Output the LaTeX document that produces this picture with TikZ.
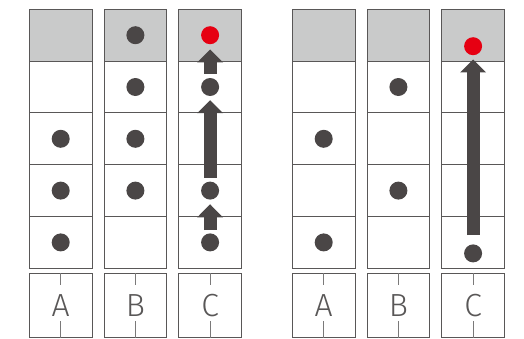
\documentclass[tikz,border=0pt]{standalone}
\usepackage{fontspec}
\newfontfamily\labelfont{Fira Sans Light}
\usetikzlibrary{positioning,arrows.meta}
\definecolor{dotgray}{HTML}{4A4646}
\definecolor{headgray}{HTML}{C9CACA}
\definecolor{linegray}{HTML}{595757}
\definecolor{dotred}{HTML}{E60012}

\begin{document}
\begin{tikzpicture}[
        x=1pt, y=-1pt,
        cell/.style={draw=linegray, line width=0.9pt, minimum width=62.7pt, minimum height=51.8pt, inner sep=0pt},
        headcell/.style={cell, fill=headgray},
        labelbox/.style={draw=linegray, line width=0.9pt, minimum width=62.7pt, minimum height=64pt, inner sep=0pt, font=\labelfont\fontsize{32}{32}\selectfont, text=linegray},
        tick/.style={draw=linegray!80, line width=0.8pt},
        dot/.style={circle, fill=dotgray, minimum size=18pt, inner sep=0pt},
        reddot/.style={dot, fill=dotred},
        blockarrow/.style={-{Triangle[length=13pt, width=25pt]}, line width=13pt, dotgray}
    ]
        \useasboundingbox (0,0) rectangle (524,338);

        % Columns: gray head cell, four white cells, label box with ticks
        \foreach \g/\gx in {L/0, R/263} {
            \foreach \c/\cx in {A/60.7, B/135.4, C/210.1} {
                \node[headcell] (\g\c1) at (\gx+\cx, 35.2) {};
                \foreach \r in {2,...,5}
                    \node[cell] (\g\c\r) at (\gx+\cx, {9.3+51.8*(\r-0.5)}) {};
                \node[labelbox] (\g\c lab) at (\gx+\cx, 305.5) {\c};
                \draw[tick] (\g\c lab.north) -- ++(0,11.5);
                \draw[tick] (\g\c lab.south) -- ++(0,-16.5);
            }
        }

        % Left group: dots
        \node[dot] (LdA3) at (LA3) {};
        \node[dot] (LdA4) at (LA4) {};
        \node[dot] (LdA5) at (LA5) {};
        \node[dot] (LdB1) at (LB1) {};
        \node[dot] (LdB2) at (LB2) {};
        \node[dot] (LdB3) at (LB3) {};
        \node[dot] (LdB4) at (LB4) {};
        \node[reddot] (LdC1) at (LC1) {};
        \node[dot] (LdC2) at (LC2) {};
        \node[dot] (LdC4) at (LC4) {};
        \node[dot] (LdC5) at (LC5) {};

        % Left group: moves in column C
        \draw[blockarrow] ([yshift=3pt]LdC5.north) -- ([yshift=-4.5pt]LdC4.south);
        \draw[blockarrow] ([yshift=3.5pt]LdC4.north) -- ([yshift=-4pt]LdC2.south);
        \draw[blockarrow] ([yshift=4pt]LdC2.north) -- ([yshift=-5pt]LdC1.south);

        % Right group: dots
        \node[dot] (RdA3) at (RA3) {};
        \node[dot] (RdA5) at (RA5) {};
        \node[dot] (RdB2) at (RB2) {};
        \node[dot] (RdB4) at (RB4) {};
        \node[reddot] (RdC1) at ([yshift=-11pt]RC1.center) {};
        \node[dot] (RdC5) at ([yshift=-11pt]RC5.center) {};

        % Right group: one long move
        \draw[blockarrow] ([yshift=9pt]RdC5.north) -- ([yshift=-4pt]RdC1.south);

    \end{tikzpicture}
\end{document}
